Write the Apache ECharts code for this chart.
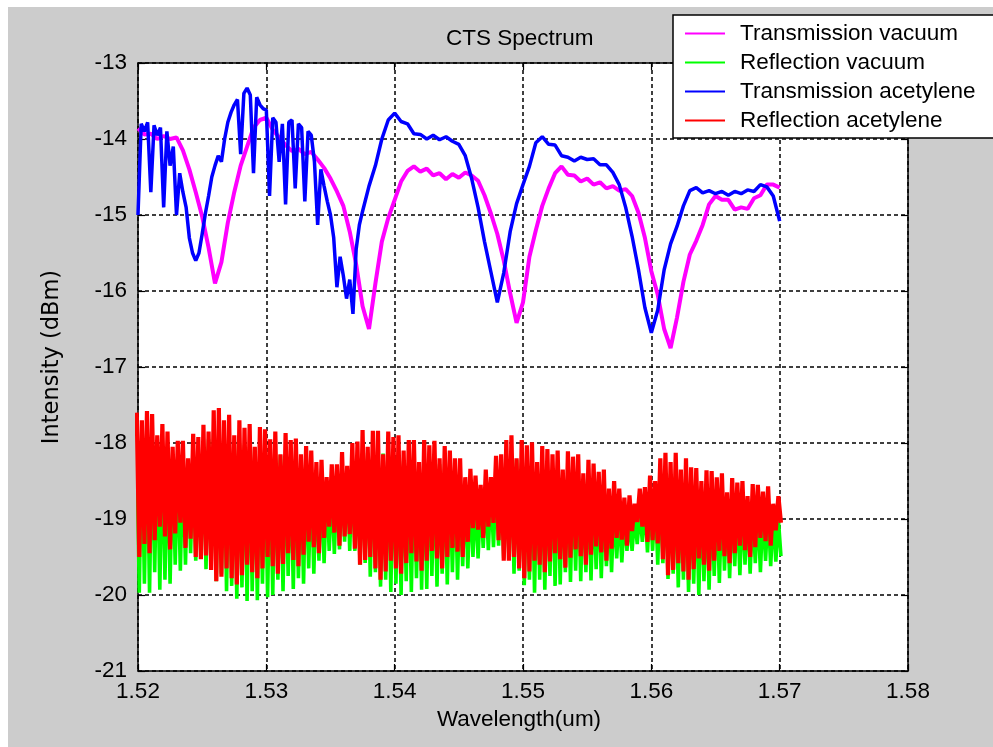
<!DOCTYPE html>
<html>
<head>
<meta charset="utf-8">
<script src="https://cdn.jsdelivr.net/npm/echarts@6/dist/echarts.min.js"></script>
<style>
  html, body { margin: 0; padding: 0; background: #ffffff; }
  #frame { position: absolute; left: 8px; top: 7px; width: 985px; height: 740px; background: #cccccc; }
  #chart { position: absolute; left: 0; top: 0; width: 993px; height: 747px; }
</style>
</head>
<body>
<div id="frame"></div>
<div id="chart"></div>
<script>
// ---- CTS spectrum data (wavelength in um, intensity in dBm) ----

// Transmission through the cell in vacuum, sampled every 0.5 nm from 1.520 um
const transVacuumStart = 1.52;
const transVacuumStep = 0.0005;
const transVacuum = [
  -13.86, -13.94, -13.93, -14.0, -13.96, -14.0, -13.98, -14.15, -14.40, -14.70,
  -15.02, -15.43, -15.90, -15.62, -15.1, -14.7, -14.35, -14.1, -13.85, -13.75,
  -13.72, -13.88, -13.98, -14.08, -14.16, -14.13, -14.2, -14.17, -14.27, -14.38,
  -14.52, -14.69, -14.88, -15.22, -15.65, -16.2, -16.5, -15.9, -15.35, -15.04,
  -14.8, -14.56, -14.42, -14.36, -14.43, -14.39, -14.48, -14.45, -14.53, -14.46,
  -14.51, -14.44, -14.48, -14.55, -14.74, -14.98, -15.25, -15.6, -16.03, -16.42,
  -16.15, -15.55, -15.2, -14.88, -14.65, -14.45, -14.36, -14.47, -14.48, -14.56,
  -14.52, -14.6, -14.57, -14.65, -14.62, -14.68, -14.66, -14.75, -14.97, -15.3,
  -15.74, -16.05, -16.5, -16.75, -16.35, -15.88, -15.52, -15.34, -15.13, -14.86,
  -14.75, -14.8, -14.8, -14.93, -14.9, -14.92, -14.78, -14.74, -14.6, -14.6,
  -14.64
];

// Transmission with acetylene: fine sampling over the absorption-line region
const transAcetylFineStart = 1.52;
const transAcetylFineStep = 0.00025;
const transAcetylFine = [
  -15.0, -13.8, -13.9, -13.78, -14.7, -13.82, -13.95, -13.85, -14.9, -13.9,
  -14.35, -14.1, -15.0, -14.45, -14.7, -14.9, -15.3, -15.5, -15.6, -15.5,
  -15.25, -14.98, -14.75, -14.5, -14.35, -14.22, -14.3, -14.0, -13.78, -13.65,
  -13.55, -13.48, -14.2, -13.4, -13.33, -13.42, -14.45, -13.45, -13.55, -13.6,
  -13.62, -14.75, -13.72, -13.78, -14.3, -13.8, -14.86, -13.78, -13.75, -14.65,
  -13.8, -13.85, -14.82, -13.9, -13.95, -14.3, -15.13, -14.4, -14.62, -14.82,
  -15.0, -15.3, -15.95, -15.55, -15.8, -16.1, -15.85, -16.3, -15.45, -15.13,
  -14.95
];

// Transmission with acetylene: remainder of the band, 0.5 nm sampling
const transAcetylCoarseStart = 1.538;
const transAcetylCoarseStep = 0.0005;
const transAcetylCoarse = [
  -14.62, -14.35, -14.0, -13.75, -13.66, -13.77, -13.8, -13.93, -13.94, -14.0,
  -13.95, -14.01, -13.97, -14.03, -14.07, -14.22, -14.52, -14.9, -15.35, -15.75,
  -16.15, -15.76, -15.22, -14.85, -14.6, -14.36, -14.05, -13.97, -14.07, -14.08,
  -14.22, -14.24, -14.29, -14.24, -14.27, -14.26, -14.34, -14.34, -14.44, -14.6,
  -14.9, -15.28, -15.72, -16.22, -16.55, -16.25, -15.72, -15.38, -15.15, -14.88,
  -14.68, -14.64, -14.71, -14.68, -14.72, -14.69, -14.74, -14.69, -14.72, -14.67,
  -14.69, -14.6, -14.63, -14.75, -15.08
];

// Reflection fringes: per 0.4 nm bin, the fringe minimum and maximum
const reflStart = 1.52;
const reflStep = 0.0004;

const reflVacuumMax = [
  -17.9, -17.88, -17.88, -17.92, -18.0, -18.05, -18.1, -18.22, -18.27, -18.27,
  -18.23, -18.18, -18.14, -18.06, -17.95, -17.87, -17.84, -17.88, -17.93, -17.97,
  -18.0, -18.03, -18.05, -18.06, -18.09, -18.12, -18.13, -18.15, -18.16, -18.17,
  -18.2, -18.24, -18.28, -18.34, -18.4, -18.46, -18.52, -18.59, -18.58, -18.5,
  -18.42, -18.35, -18.3, -18.2, -18.13, -18.13, -18.14, -18.14, -18.14, -18.15,
  -18.17, -18.2, -18.23, -18.26, -18.26, -18.26, -18.26, -18.26, -18.27, -18.28,
  -18.34, -18.4, -18.45, -18.5, -18.57, -18.64, -18.73, -18.72, -18.65, -18.56,
  -18.47, -18.36, -18.26, -18.2, -18.22, -18.26, -18.27, -18.29, -18.3, -18.34,
  -18.38, -18.39, -18.4, -18.4, -18.41, -18.42, -18.45, -18.48, -18.52, -18.57,
  -18.61, -18.65, -18.72, -18.8, -18.9, -18.96, -18.99, -18.96, -18.9, -18.82,
  -18.73, -18.63, -18.5, -18.43, -18.41, -18.43, -18.47, -18.5, -18.57, -18.63,
  -18.65, -18.66, -18.67, -18.68, -18.7, -18.73, -18.76, -18.78, -18.8, -18.82,
  -18.84, -18.85, -18.86, -18.87, -18.92, -19.0
];
const reflVacuumMin = [
  -19.97, -19.85, -19.97, -19.7, -19.93, -19.8, -19.85, -19.6, -19.68, -19.6,
  -19.45, -19.55, -19.5, -19.66, -19.62, -19.82, -19.72, -19.95, -19.88, -20.05,
  -19.9, -20.08, -19.95, -20.07, -19.85, -20.03, -20.0, -19.8, -19.95, -19.75,
  -19.92, -19.78, -19.85, -19.65, -19.72, -19.55, -19.58, -19.42, -19.46, -19.4,
  -19.3, -19.42, -19.42, -19.6, -19.58, -19.76, -19.7, -19.89, -19.8, -19.96,
  -19.85, -20.0, -19.82, -19.96, -19.78, -19.93, -19.92, -19.75, -19.89, -19.72,
  -19.86, -19.7, -19.8, -19.62, -19.65, -19.5, -19.52, -19.38, -19.41, -19.37,
  -19.35, -19.52, -19.5, -19.72, -19.68, -19.87, -19.8, -19.97, -19.8, -19.93,
  -19.75, -19.88, -19.86, -19.7, -19.83, -19.68, -19.82, -19.7, -19.81, -19.66,
  -19.78, -19.62, -19.7, -19.52, -19.57, -19.42, -19.42, -19.33, -19.3, -19.44,
  -19.42, -19.6, -19.58, -19.79, -19.72, -19.9, -19.8, -19.96, -19.85, -20.0,
  -19.82, -19.93, -19.75, -19.84, -19.68, -19.78, -19.62, -19.74, -19.6, -19.72,
  -19.58, -19.7, -19.55, -19.62, -19.56, -19.49
];

const reflAcetylMax = [
  -17.6, -17.7, -17.58, -17.62, -17.9, -17.75, -17.85, -18.05, -17.97, -17.97,
  -18.2, -17.88, -17.92, -17.76, -17.85, -17.57, -17.54, -17.7, -17.63, -17.9,
  -17.7, -17.8, -17.75, -18.05, -17.79, -17.82, -17.95, -17.85, -18.15, -17.87,
  -17.96, -17.94, -18.15, -18.04, -18.1, -18.25, -18.22, -18.45, -18.28, -18.28,
  -18.12, -18.3, -18.0, -17.98, -17.83, -18.05, -17.84, -17.84, -18.15, -17.85,
  -17.92, -17.9, -18.1, -17.96, -17.96, -18.25, -17.96, -18.03, -17.97, -18.2,
  -18.04, -18.1, -18.2, -18.2, -18.45, -18.34, -18.43, -18.55, -18.35, -18.45,
  -18.17, -18.15, -17.96, -17.9, -18.2, -17.96, -18.03, -17.99, -18.25, -18.04,
  -18.08, -18.15, -18.1, -18.35, -18.11, -18.18, -18.15, -18.4, -18.22, -18.27,
  -18.38, -18.35, -18.6, -18.5, -18.6, -18.72, -18.69, -18.8, -18.6, -18.58,
  -18.43, -18.5, -18.2, -18.13, -18.25, -18.13, -18.35, -18.2, -18.32, -18.33,
  -18.5, -18.36, -18.37, -18.45, -18.4, -18.65, -18.46, -18.52, -18.5, -18.7,
  -18.54, -18.55, -18.64, -18.57, -18.8, -18.7
];
const reflAcetylMin = [
  -19.5, -19.33, -19.45, -19.28, -19.1, -19.23, -19.4, -19.19, -19.05, -19.38,
  -19.26, -19.5, -19.53, -19.48, -19.67, -19.82, -19.76, -19.65, -19.78, -19.86,
  -19.74, -19.6, -19.7, -19.78, -19.65, -19.5, -19.62, -19.72, -19.59, -19.45,
  -19.54, -19.62, -19.47, -19.3, -19.37, -19.45, -19.25, -19.1, -19.18, -19.35,
  -19.23, -19.2, -19.39, -19.6, -19.54, -19.5, -19.65, -19.8, -19.69, -19.55,
  -19.65, -19.72, -19.58, -19.45, -19.56, -19.68, -19.55, -19.42, -19.52, -19.65,
  -19.5, -19.38, -19.43, -19.5, -19.3, -19.12, -19.14, -19.25, -19.1, -19.05,
  -19.28, -19.55, -19.55, -19.5, -19.65, -19.78, -19.69, -19.55, -19.6, -19.7,
  -19.56, -19.45, -19.53, -19.64, -19.51, -19.4, -19.49, -19.6, -19.47, -19.36,
  -19.44, -19.55, -19.39, -19.25, -19.27, -19.35, -19.16, -19.04, -19.1, -19.3,
  -19.28, -19.32, -19.53, -19.74, -19.67, -19.58, -19.69, -19.8, -19.66, -19.52,
  -19.6, -19.68, -19.55, -19.42, -19.49, -19.58, -19.45, -19.35, -19.41, -19.5,
  -19.37, -19.25, -19.29, -19.35, -19.15, -19.05
];

// Axis ranges and labels
const xMin = 1.52, xMax = 1.58, xInterval = 0.01;
const yMin = -21, yMax = -13, yInterval = 1;
const seriesNames = ['Transmission vacuum', 'Reflection vacuum', 'Transmission acetylene', 'Reflection acetylene'];
const seriesColors = ['#ff00ff', '#00ff00', '#0000ff', '#ff0000'];

// ---- helpers ----
function sampled(start, step, values) {
  return values.map((v, i) => [+(start + i * step).toFixed(5), v]);
}
// fringe trace: within each bin the signal swings from its maximum down to its minimum
function fringeTrace(start, step, lo, hi) {
  const pts = [];
  for (let i = 0; i < lo.length; i++) {
    const c = start + i * step;
    pts.push([+(c - step / 4).toFixed(6), hi[i]]);
    pts.push([+(c + step / 4).toFixed(6), lo[i]]);
  }
  return pts;
}

const FONT = '"Liberation Sans", Arial, Helvetica, sans-serif';
const TEXT = { color: '#000', fontFamily: FONT, fontSize: 22.5 };

const axisLine = { show: true, onZero: false, lineStyle: { color: '#000', width: 1.5 } };
const axisTick = { show: true, inside: true, length: 7, lineStyle: { color: '#000', width: 1.2 } };
const gridDash = { show: true, lineStyle: { color: '#000', width: 1.5, type: [4, 3] } };

const chart = echarts.init(document.getElementById('chart'), null, { renderer: 'canvas' });

chart.setOption({
  animation: false,
  backgroundColor: 'transparent',
  color: seriesColors,
  title: {
    text: 'CTS Spectrum',
    left: 446, top: 27, padding: 0,
    textStyle: Object.assign({}, TEXT, { fontWeight: 'normal' })
  },
  legend: {
    data: seriesNames,
    orient: 'vertical',
    left: 673, top: 15,
    padding: [7, 60, 6, 12],
    itemGap: 6,
    itemWidth: 40, itemHeight: 2,
    icon: 'rect',
    selectedMode: false,
    backgroundColor: '#ffffff',
    borderColor: '#000', borderWidth: 1.5, borderRadius: 0,
    textStyle: Object.assign({}, TEXT, { lineHeight: 22, padding: [0, 0, 0, 10] })
  },
  graphic: [
    {
      type: 'text', x: 52, y: 357, rotation: Math.PI / 2, silent: true,
      style: {
        text: 'Intensity (dBm)', fill: '#000',
        font: '22.5px "DejaVu Sans", Verdana, sans-serif',
        align: 'center', verticalAlign: 'middle'
      }
    }
  ],
  grid: { left: 138, top: 63, right: 85, bottom: 76, containLabel: false, backgroundColor: '#fff', show: true, borderWidth: 0 },
  xAxis: [
    {
      type: 'value', position: 'bottom', min: xMin, max: xMax, interval: xInterval,
      axisLine: axisLine, axisTick: axisTick, splitLine: gridDash,
      axisLabel: Object.assign({}, TEXT, { margin: 9, formatter: v => v.toFixed(2) }),
      name: 'Wavelength(um)', nameLocation: 'middle', nameGap: 36,
      nameTextStyle: Object.assign({}, TEXT, { padding: [0, 8, 0, 0] })
    },
    {
      type: 'value', position: 'top', min: xMin, max: xMax, interval: xInterval,
      axisLine: axisLine, axisTick: axisTick, splitLine: { show: false }, axisLabel: { show: false }
    }
  ],
  yAxis: [
    {
      type: 'value', position: 'left', min: yMin, max: yMax, interval: yInterval,
      axisLine: axisLine, axisTick: axisTick, splitLine: gridDash,
      axisLabel: Object.assign({}, TEXT, { margin: 11 })
    },
    {
      type: 'value', position: 'right', min: yMin, max: yMax, interval: yInterval,
      axisLine: axisLine, axisTick: axisTick, splitLine: { show: false }, axisLabel: { show: false }
    }
  ],
  series: [
    {
      name: seriesNames[0], type: 'line', symbol: 'none', silent: true,
      data: sampled(transVacuumStart, transVacuumStep, transVacuum),
      lineStyle: { color: seriesColors[0], width: 4 }, itemStyle: { color: seriesColors[0] }
    },
    {
      name: seriesNames[1], type: 'line', symbol: 'none', silent: true,
      data: fringeTrace(reflStart, reflStep, reflVacuumMin, reflVacuumMax),
      lineStyle: { color: seriesColors[1], width: 3.6 }, itemStyle: { color: seriesColors[1] }
    },
    {
      name: seriesNames[2], type: 'line', symbol: 'none', silent: true,
      data: sampled(transAcetylFineStart, transAcetylFineStep, transAcetylFine)
        .concat(sampled(transAcetylCoarseStart, transAcetylCoarseStep, transAcetylCoarse)),
      lineStyle: { color: seriesColors[2], width: 3.5 }, itemStyle: { color: seriesColors[2] }
    },
    {
      name: seriesNames[3], type: 'line', symbol: 'none', silent: true,
      data: fringeTrace(reflStart, reflStep, reflAcetylMin, reflAcetylMax),
      lineStyle: { color: seriesColors[3], width: 4.2 }, itemStyle: { color: seriesColors[3] }
    }
  ]
});
</script>
</body>
</html>
